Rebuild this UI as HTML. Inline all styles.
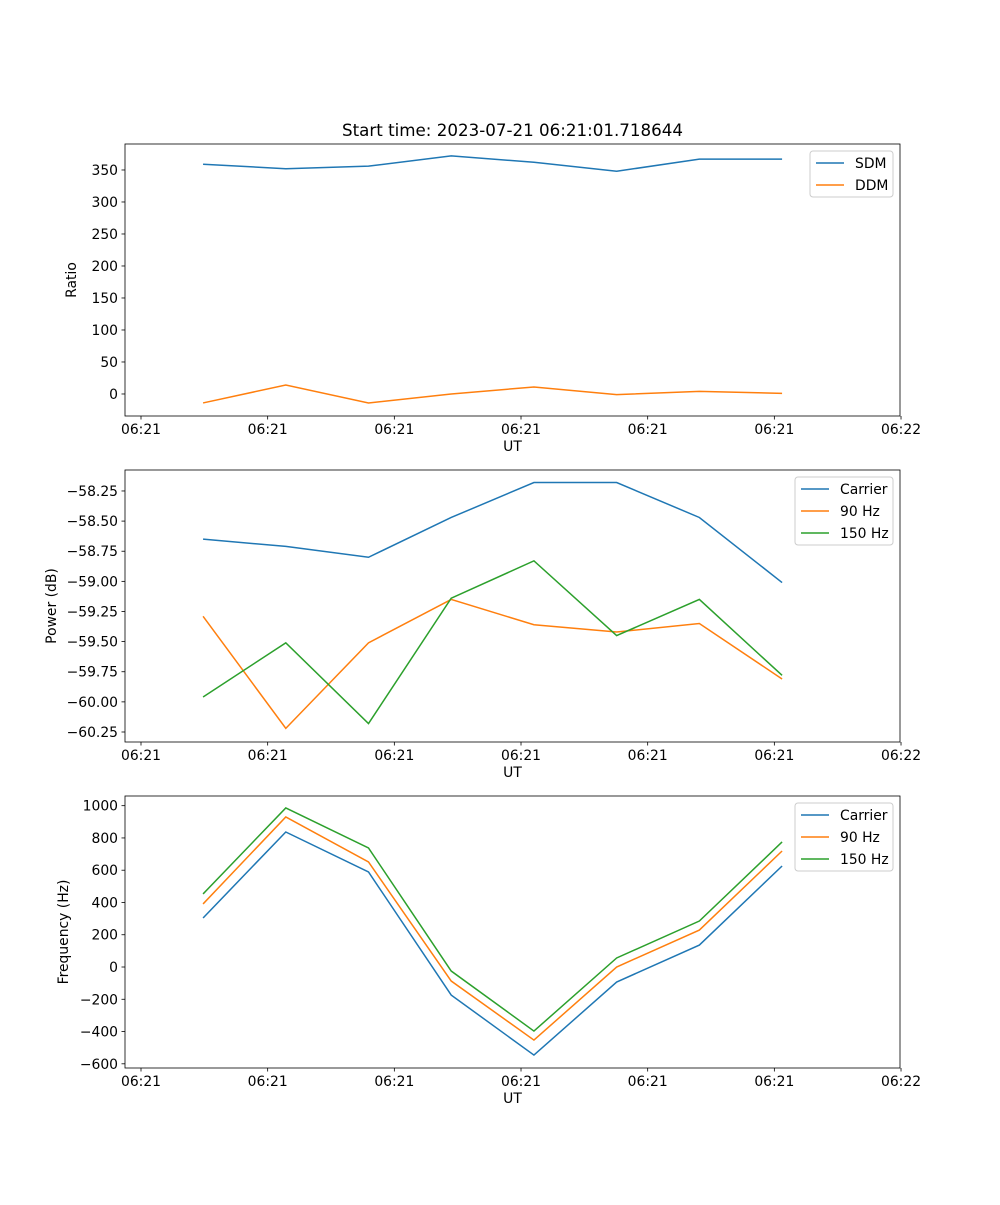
<!DOCTYPE html>
<html><head><meta charset="utf-8"><style>
body{margin:0;background:#fff}
svg text{font-family:"DejaVu Sans","Liberation Sans",sans-serif;font-size:13.9px;fill:#000}
</style></head><body>
<svg id="fig" width="1000" height="1200" xmlns="http://www.w3.org/2000/svg"></svg>
<script>
const times=[0.49,1.143,1.796,2.449,3.102,3.755,4.408,5.061];
const xTickLabels=["06:21","06:21","06:21","06:21","06:21","06:21","06:22"];
const sdm=[359,352,356,372,362,348,367,367];
const ddm=[-14,14,-14,0,11,-1,4,1];
const pCarrier=[-58.65,-58.71,-58.80,-58.47,-58.18,-58.18,-58.47,-59.01];
const p90=[-59.29,-60.22,-59.51,-59.15,-59.36,-59.42,-59.35,-59.81];
const p150=[-59.96,-59.51,-60.18,-59.14,-58.83,-59.45,-59.15,-59.78];
const fCarrier=[304,837,589,-174,-546,-93,136,626];
const f90=[391,930,651,-87,-453,0,229,719];
const f150=[453,986,738,-25,-397,56,285,775];
const ticks1=[0,50,100,150,200,250,300,350];
const ticks2=[-60.25,-60.00,-59.75,-59.50,-59.25,-59.00,-58.75,-58.50,-58.25];
const ticks3=[-600,-400,-200,0,200,400,600,800,1000];

const NS="http://www.w3.org/2000/svg";
const svg=document.getElementById('fig');
function mk(tag,attrs,parent){const e=document.createElementNS(NS,tag);for(const k in attrs)e.setAttribute(k,attrs[k]);(parent||svg).appendChild(e);return e;}
const L=125,R=900,C=['#1f77b4','#ff7f0e','#2ca02c'];
const xs=v=>141+v*126.67;
function panel(name,top,bot,ymin,ymax,yt,fmt,ylabel,series,names,legW){
  const g=mk('g',{});
  
  
  const ys=v=>bot-(v-ymin)/(ymax-ymin)*(bot-top);
  series.forEach((s,i)=>{
    const pl=mk('polyline',{points:s.map((v,j)=>xs(times[j])+','+ys(v)).join(' '),fill:'none',stroke:C[i],'stroke-width':1.5},g);
    
    
  });
  const fr=mk('rect',{x:L,y:top,width:R-L,height:bot-top,fill:'none',stroke:'#000','stroke-width':0.8},g);
  
  
  xTickLabels.forEach((t,i)=>{
    const x=xs(i);
    mk('line',{x1:x,x2:x,y1:bot,y2:bot+3.5,stroke:'#000','stroke-width':0.8},g);
    const tx=mk('text',{x:x,y:bot+18,'text-anchor':'middle'},g);tx.textContent=t;
    
    
  });
  yt.forEach(v=>{
    const y=ys(v);
    mk('line',{x1:L,x2:L-3.5,y1:y,y2:y,stroke:'#000','stroke-width':0.8},g);
    const tx=mk('text',{x:L-7,y:y+5,'text-anchor':'end'},g);tx.textContent=fmt(v);
    
    
  });
  const xl=mk('text',{x:(L+R)/2,y:bot+35,'text-anchor':'middle'},g);xl.textContent='UT';
  
  
  const lx=name==='ratio'?76:(name==='power'?56:68);
  const yl=mk('text',{x:lx,y:(top+bot)/2,'text-anchor':'middle',transform:`rotate(-90 ${lx} ${(top+bot)/2})`},g);yl.textContent=ylabel;
  
  
  const lg=mk('g',{},g);
  
  
  const lx0=893-legW,ly0=top+7;
  mk('rect',{x:lx0,y:ly0,width:legW,height:names.length*22+2,rx:3,fill:'#fff',stroke:'#ccc','stroke-width':1},lg);
  names.forEach((n,i)=>{
    const y=ly0+12+i*22;
    mk('line',{x1:lx0+6,x2:lx0+34,y1:y,y2:y,stroke:C[i],'stroke-width':1.5},lg);
    const t=mk('text',{x:lx0+45,y:y+5},lg);t.textContent=n;
    
    
  });
}
const title=mk('text',{x:512.5,y:136,'text-anchor':'middle',style:'font-size:16.7px'});
title.textContent='Start time: 2023-07-21 06:21:01.718644';


panel('ratio',144,416,-34.4,390.6,ticks1,v=>String(v),'Ratio',[sdm,ddm],['SDM','DDM'],83);
panel('power',470,742,-60.333,-58.076,ticks2,v=>'\u2212'+Math.abs(v).toFixed(2),'Power (dB)',[pCarrier,p90,p150],['Carrier','90 Hz','150 Hz'],98);
panel('frequency',796,1068,-626,1060,ticks3,v=>v<0?'\u2212'+Math.abs(v):String(v),'Frequency (Hz)',[fCarrier,f90,f150],['Carrier','90 Hz','150 Hz'],98);
</script>
</body></html>
